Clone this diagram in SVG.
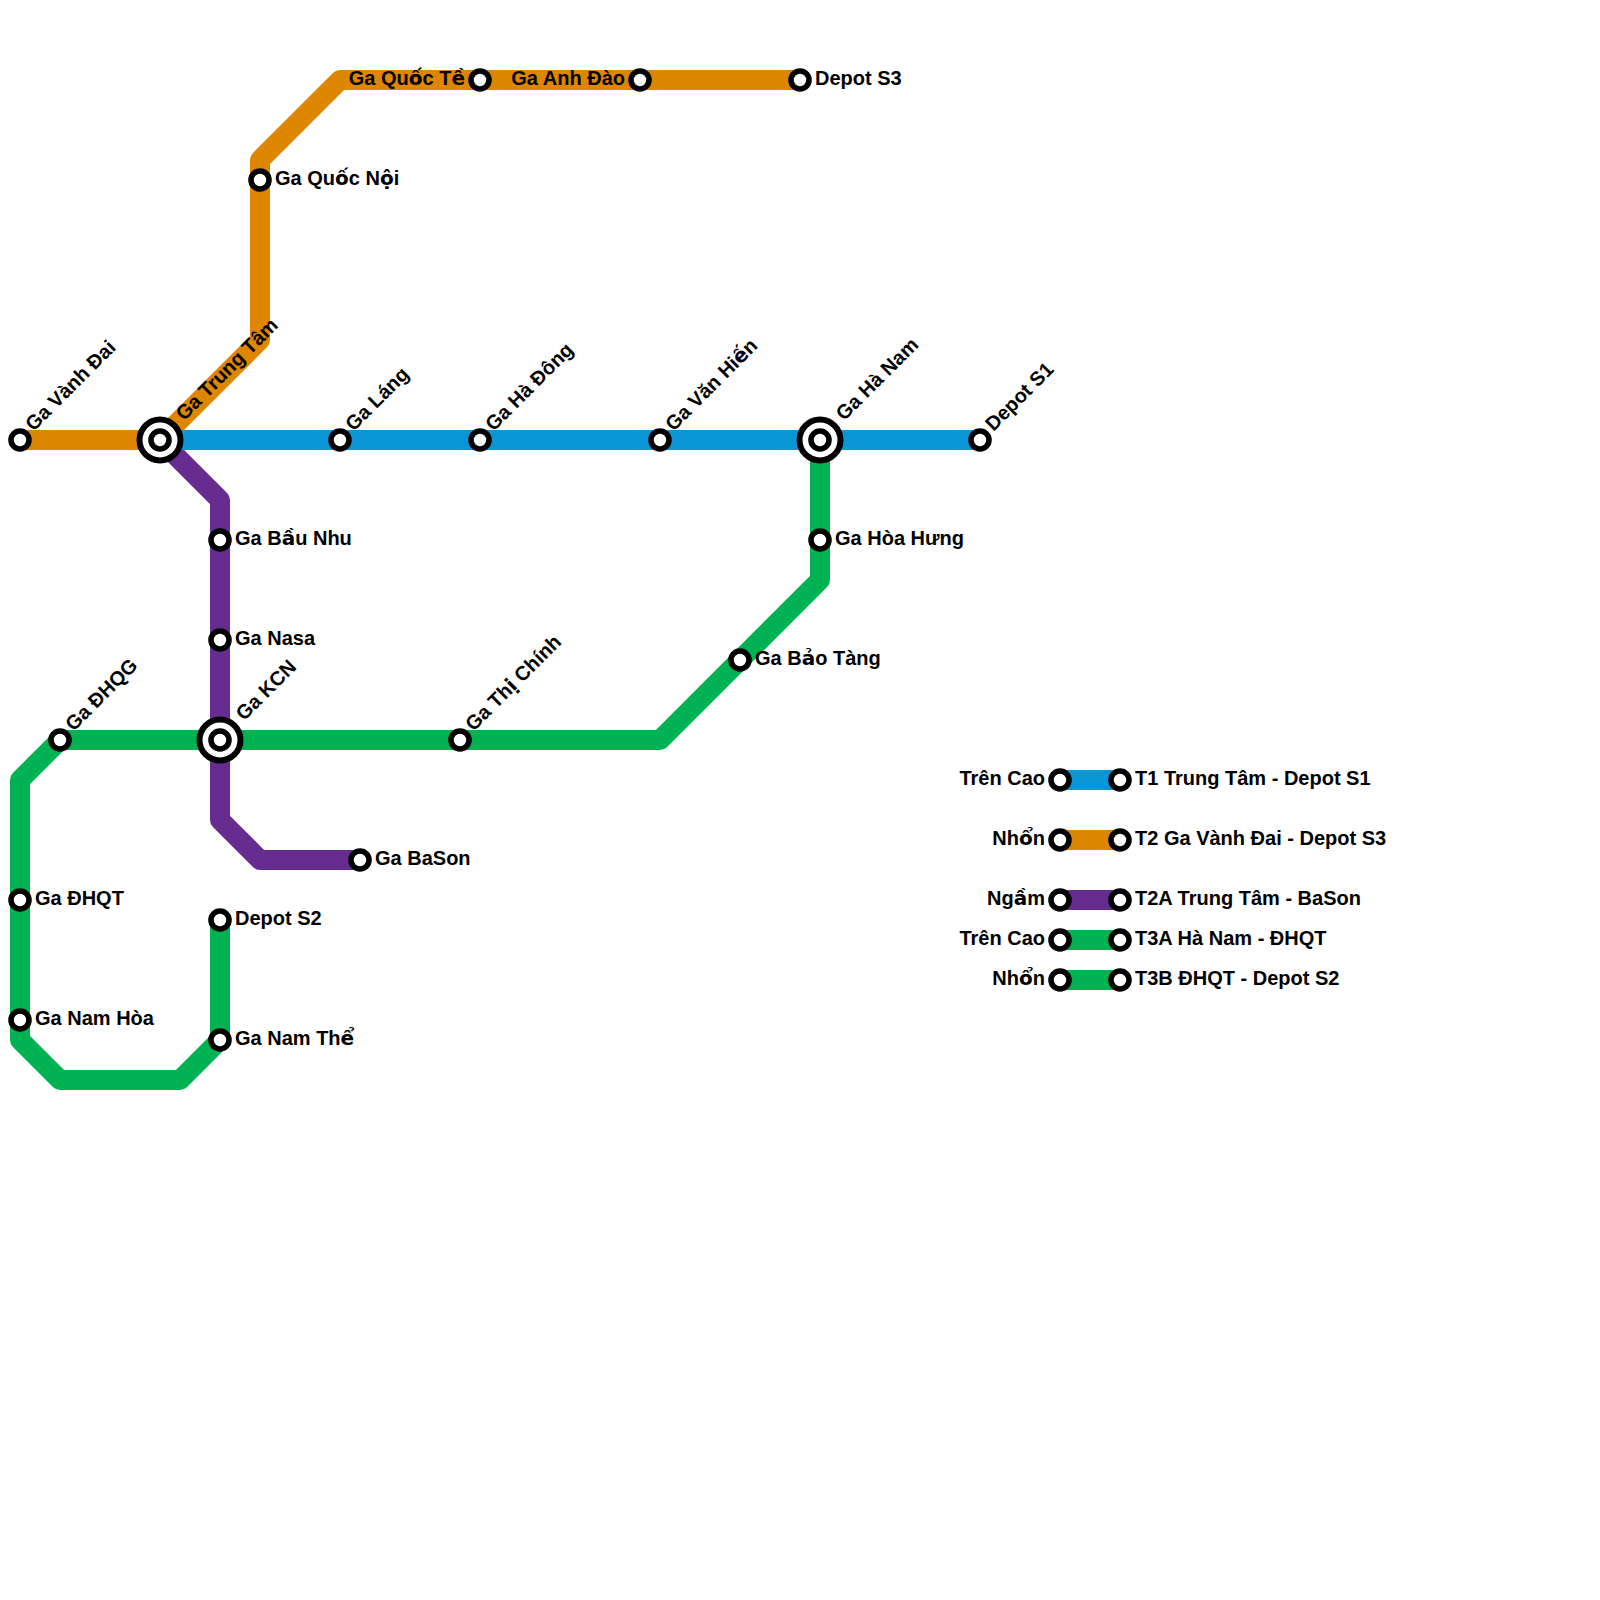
<svg xmlns="http://www.w3.org/2000/svg" width="1600" height="1600" viewBox="0 0 1600 1600">
<style>
.l{fill:none;stroke-width:20;stroke-linejoin:round;stroke-linecap:butt}
.b{stroke:#0896d7}.o{stroke:#df8600}.p{stroke:#662c90}.g{stroke:#00b251}
.s{fill:#fff;stroke:#000;stroke-width:5.6}
.x{fill:#fff;stroke:#000;stroke-width:6}
text{font-family:"Liberation Sans",Arial,sans-serif;font-weight:700;font-size:20px;fill:#000}
tspan{font-family:"DejaVu Sans",sans-serif}
.e{text-anchor:end}
</style>
<rect width="1600" height="1600" fill="#fff"/>
<g id="connectors">
<path class="l o" d="M20 440H160L260 340V160L340 80H800"/>
<path class="l p" d="M160 440L220 500V820L260 860H360"/>
<path class="l g" d="M820 440V580L660 740H60L20 780V1040L60 1080H180L220 1040V920"/>
<path class="l b" d="M160 440H980"/>
<path class="l b" d="M1060 780H1120"/>
<path class="l o" d="M1060 840H1120"/>
<path class="l p" d="M1060 900H1120"/>
<path class="l g" d="M1060 940H1120"/>
<path class="l g" d="M1060 980H1120"/>
</g>
<g id="n-vanh-dai"><circle class="s" cx="20" cy="440" r="9"/><text transform="translate(33.5 432) rotate(-45)">Ga Vành Đai</text></g>
<g id="n-trung-tam"><circle class="x" cx="160" cy="440" r="20.5"/><circle class="s" cx="160" cy="440" r="9"/><text transform="translate(184 421.5) rotate(-45)">Ga Trung Tâm</text></g>
<g id="n-lang"><circle class="s" cx="340" cy="440" r="9"/><text transform="translate(353.5 432) rotate(-45)">Ga Láng</text></g>
<g id="n-ha-dong"><circle class="s" cx="480" cy="440" r="9"/><text transform="translate(493.5 432) rotate(-45)">Ga Hà Đông</text></g>
<g id="n-van-hien"><circle class="s" cx="660" cy="440" r="9"/><text transform="translate(673.5 432) rotate(-45)">Ga Văn Hi<tspan>ế</tspan>n</text></g>
<g id="n-ha-nam"><circle class="x" cx="820" cy="440" r="20.5"/><circle class="s" cx="820" cy="440" r="9"/><text transform="translate(844 421.5) rotate(-45)">Ga Hà Nam</text></g>
<g id="n-depot-s1"><circle class="s" cx="980" cy="440" r="9"/><text transform="translate(993.5 432) rotate(-45)">Depot S1</text></g>
<g id="n-quoc-noi"><circle class="s" cx="260" cy="180" r="9"/><text x="275" y="185">Ga Qu<tspan>ố</tspan>c N<tspan>ộ</tspan>i</text></g>
<g id="n-quoc-te"><circle class="s" cx="480" cy="80" r="9"/><text class="e" x="465" y="85">Ga Qu<tspan>ố</tspan>c T<tspan>ề</tspan></text></g>
<g id="n-anh-dao"><circle class="s" cx="640" cy="80" r="9"/><text class="e" x="625" y="85">Ga Anh Đào</text></g>
<g id="n-depot-s3"><circle class="s" cx="800" cy="80" r="9"/><text x="815" y="85">Depot S3</text></g>
<g id="n-bau-nhu"><circle class="s" cx="220" cy="540" r="9"/><text x="235" y="545">Ga B<tspan>ầ</tspan>u Nhu</text></g>
<g id="n-nasa"><circle class="s" cx="220" cy="640" r="9"/><text x="235" y="645">Ga Nasa</text></g>
<g id="n-kcn"><circle class="x" cx="220" cy="740" r="20.5"/><circle class="s" cx="220" cy="740" r="9"/><text transform="translate(244 721.5) rotate(-45)">Ga KCN</text></g>
<g id="n-ba-son"><circle class="s" cx="360" cy="860" r="9"/><text x="375" y="865">Ga BaSon</text></g>
<g id="n-dhqg"><circle class="s" cx="60" cy="740" r="9"/><text transform="translate(73.5 732) rotate(-45)">Ga ĐHQG</text></g>
<g id="n-thi-chinh"><circle class="s" cx="460" cy="740" r="9"/><text transform="translate(473.5 732) rotate(-45)">Ga Th<tspan>ị</tspan> Chính</text></g>
<g id="n-bao-tang"><circle class="s" cx="740" cy="660" r="9"/><text x="755" y="665">Ga B<tspan>ả</tspan>o Tàng</text></g>
<g id="n-hoa-hung"><circle class="s" cx="820" cy="540" r="9"/><text x="835" y="545">Ga Hòa Hưng</text></g>
<g id="n-dhqt"><circle class="s" cx="20" cy="900" r="9"/><text x="35" y="905">Ga ĐHQT</text></g>
<g id="n-nam-hoa"><circle class="s" cx="20" cy="1020" r="9"/><text x="35" y="1025">Ga Nam Hòa</text></g>
<g id="n-depot-s2"><circle class="s" cx="220" cy="920" r="9"/><text x="235" y="925">Depot S2</text></g>
<g id="n-nam-the"><circle class="s" cx="220" cy="1040" r="9"/><text x="235" y="1045">Ga Nam Th<tspan>ể</tspan></text></g>
<g id="legend-t1"><circle class="s" cx="1060" cy="780" r="9"/><circle class="s" cx="1120" cy="780" r="9"/><text class="e" x="1045" y="785">Trên Cao</text><text x="1135" y="785">T1 Trung Tâm - Depot S1</text></g>
<g id="legend-t2"><circle class="s" cx="1060" cy="840" r="9"/><circle class="s" cx="1120" cy="840" r="9"/><text class="e" x="1045" y="845">Nh<tspan>ổ</tspan>n</text><text x="1135" y="845">T2 Ga Vành Đai - Depot S3</text></g>
<g id="legend-t2a"><circle class="s" cx="1060" cy="900" r="9"/><circle class="s" cx="1120" cy="900" r="9"/><text class="e" x="1045" y="905">Ng<tspan>ầ</tspan>m</text><text x="1135" y="905">T2A Trung Tâm - BaSon</text></g>
<g id="legend-t3a"><circle class="s" cx="1060" cy="940" r="9"/><circle class="s" cx="1120" cy="940" r="9"/><text class="e" x="1045" y="945">Trên Cao</text><text x="1135" y="945">T3A Hà Nam - ĐHQT</text></g>
<g id="legend-t3b"><circle class="s" cx="1060" cy="980" r="9"/><circle class="s" cx="1120" cy="980" r="9"/><text class="e" x="1045" y="985">Nh<tspan>ổ</tspan>n</text><text x="1135" y="985">T3B ĐHQT - Depot S2</text></g>
</svg>
